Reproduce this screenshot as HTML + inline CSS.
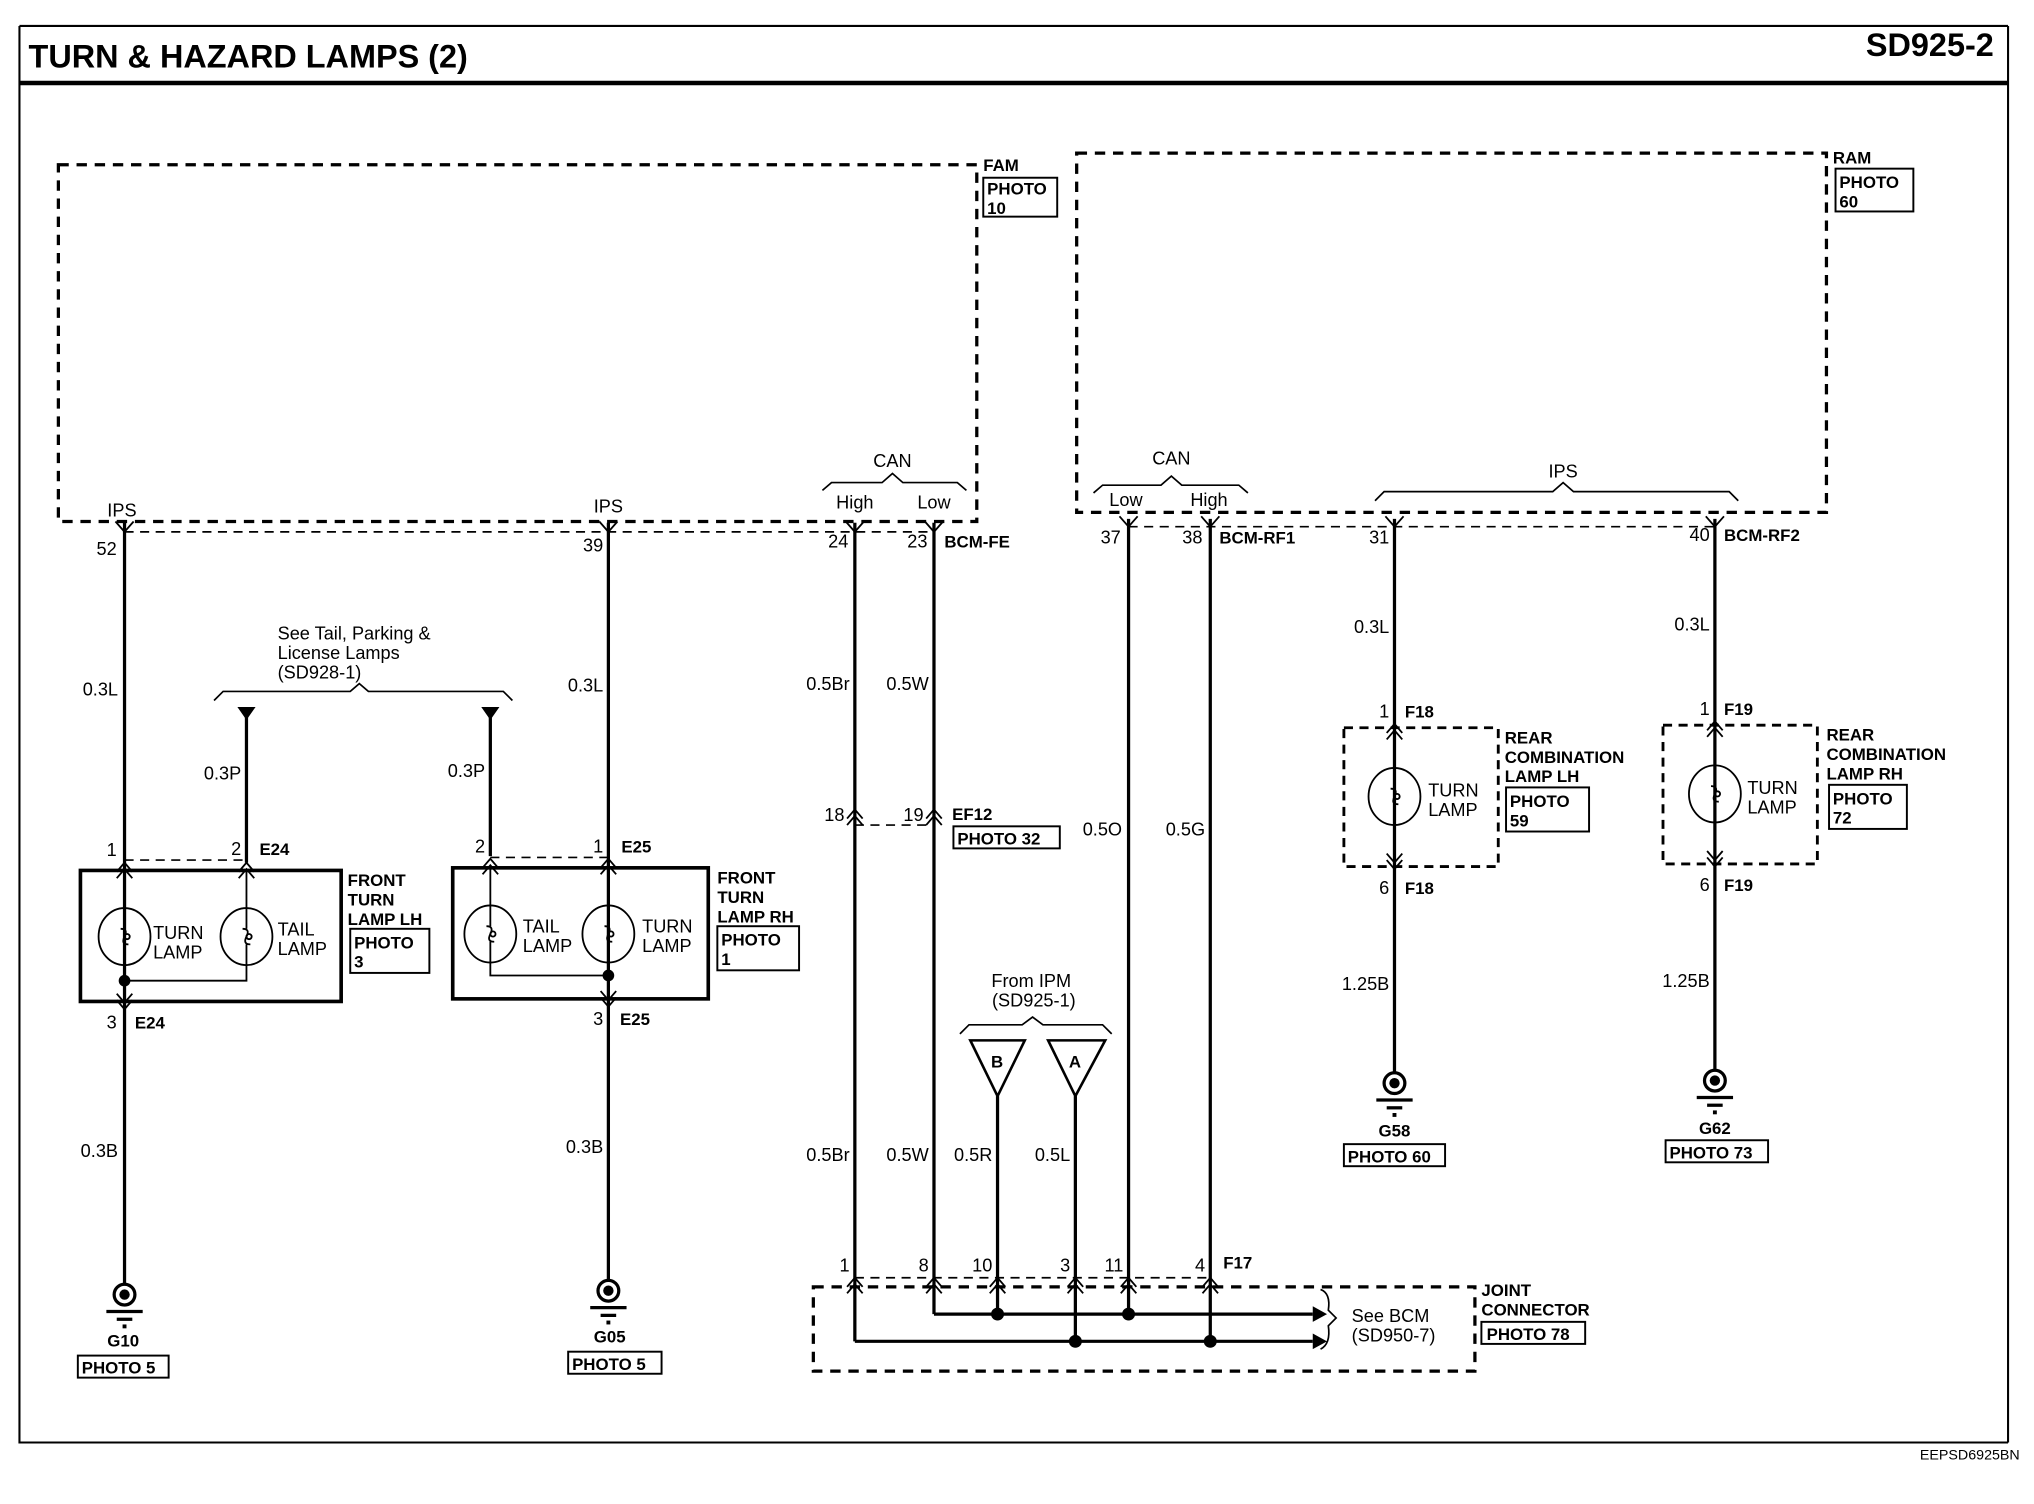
<!DOCTYPE html>
<html><head><meta charset="utf-8"><style>
html,body{margin:0;padding:0;background:#fff;}
svg{display:block;}
text{font-family:"Liberation Sans",Arial,sans-serif;fill:#000;}
.b{font-weight:bold;}
</style></head><body>
<svg width="2034" height="1504" viewBox="0 0 1568 1159.4" xmlns="http://www.w3.org/2000/svg">
<defs>
<g id="up" fill="none" stroke="#000" stroke-width="1.4"><path d="M-6,7 L0,0 L6,7 M-6,12 L0,5 L6,12"/></g>
<g id="dn" fill="none" stroke="#000" stroke-width="1.4"><path d="M-6,-7 L0,0 L6,-7 M-6,-12 L0,-5 L6,-12"/></g>
<g id="y" fill="none" stroke="#000" stroke-width="1.4"><path d="M-7,-7 L0,1 L7,-7"/></g>
<g id="gnd"><circle cx="0" cy="0" r="8" fill="none" stroke="#000" stroke-width="2.5"/><circle cx="0" cy="0" r="4" fill="#000"/><line x1="-14" y1="13" x2="14" y2="13" stroke="#000" stroke-width="2.5"/><line x1="-6" y1="19" x2="6" y2="19" stroke="#000" stroke-width="2.5"/><rect x="-1.5" y="23" width="3" height="3" fill="#000"/></g>
<g id="lamp" fill="none" stroke="#000" stroke-width="1.4"><ellipse cx="0" cy="0" rx="20" ry="22"/><path d="M0,-22 V-6 M0,6 V22 M-3,-6 Q3,-6 0,0 Q-3,6 3,6"/><circle cx="2" cy="0" r="2"/></g>
</defs>
<g fill="none" stroke="#000">
<path d="M15,20 L1548,20 M15,20 L15,1112 L1548,1112 M1548,20 L1548,1112" stroke-width="1.6"/>
<line x1="15" y1="64" x2="1548" y2="64" stroke-width="3.5"/>
<rect x="45" y="127" width="708" height="275" stroke-width="2.5" stroke-dasharray="8,6"/>
<rect x="830" y="118" width="578" height="277" stroke-width="2.5" stroke-dasharray="8,6"/>
<rect x="627" y="992" width="510" height="65" stroke-width="2.5" stroke-dasharray="8,6"/>
<g stroke-width="1.3" stroke-dasharray="7,5">
<line x1="96" y1="410" x2="720" y2="410"/>
<line x1="870" y1="406" x2="1322" y2="406"/>
<line x1="96" y1="663" x2="190" y2="663"/>
<line x1="378" y1="661" x2="469" y2="661"/>
<line x1="659" y1="636" x2="720" y2="636"/>
<line x1="659" y1="985" x2="933" y2="985"/>
<rect x="1036" y="561" width="119" height="107" stroke-width="2.2"/>
<rect x="1282" y="559" width="119" height="107" stroke-width="2.2"/>
</g>
<g stroke-width="2.5">
<line x1="96" y1="403" x2="96" y2="990"/>
<line x1="469" y1="403" x2="469" y2="988"/>
<line x1="659" y1="403" x2="659" y2="1034"/>
<line x1="720" y1="403" x2="720" y2="1013"/>
<line x1="870" y1="400" x2="870" y2="1013"/>
<line x1="933" y1="400" x2="933" y2="1034"/>
<line x1="769" y1="845" x2="769" y2="1013"/>
<line x1="829" y1="845" x2="829" y2="1034"/>
<line x1="190" y1="550" x2="190" y2="665"/>
<line x1="378" y1="550" x2="378" y2="660"/>
<line x1="1075" y1="400" x2="1075" y2="827"/>
<line x1="1322" y1="400" x2="1322" y2="825"/>
<line x1="720" y1="1013" x2="1012" y2="1013"/>
<line x1="659" y1="1034" x2="1012" y2="1034"/>
</g>
<rect x="62" y="671" width="201" height="101" stroke-width="2.8"/>
<rect x="349" y="669" width="197" height="101" stroke-width="2.8"/>
<path d="M96,756 H190 V744 M190,671 V700" stroke-width="1.4"/>
<path d="M469,752 H378 V742 M378,669 V698" stroke-width="1.4"/>
<path d="M165,540 L172,533 L270,533 L277,527 L284,533 L388,533 L395,540" stroke-width="1.3"/>
<path d="M634,378 L641,372 L680,372 L688,365 L696,372 L738,372 L745,378" stroke-width="1.3"/>
<path d="M843,380 L850,374 L895,374 L903,367 L911,374 L955,374 L962,380" stroke-width="1.3"/>
<path d="M1060,386 L1067,379 L1197,379 L1205,372 L1213,379 L1333,379 L1340,386" stroke-width="1.3"/>
<path d="M740,797 L747,790 L788,790 L796,784 L804,790 L850,790 L857,797" stroke-width="1.3"/>
<path d="M1018,994 Q1026,997 1024,1010 L1030,1016 L1024,1022 Q1026,1036 1018,1040" stroke-width="1.3"/>
<path d="M748,802 L790,802 L769,845 Z M808,802 L852,802 L829,845 Z" stroke-width="2"/>
<g stroke-width="1.5">
<rect x="758" y="137" width="57" height="30"/>
<rect x="1415" y="130" width="60" height="33"/>
<rect x="270" y="716" width="61" height="34"/>
<rect x="553" y="714" width="63" height="34"/>
<rect x="735" y="637" width="82" height="17"/>
<rect x="60" y="1045" width="70" height="17"/>
<rect x="438" y="1042" width="72" height="17"/>
<rect x="1161" y="607" width="64" height="34"/>
<rect x="1410" y="605" width="60" height="34"/>
<rect x="1036" y="882" width="78" height="17"/>
<rect x="1284" y="879" width="79" height="17"/>
<rect x="1142" y="1019" width="80" height="17"/>
</g>
</g>
<path d="M1012,1007 L1023,1013 L1012,1019 Z M1012,1028 L1023,1034 L1012,1040 Z" fill="#000"/>
<path d="M183,545 L197,545 L190,555 Z M371,545 L385,545 L378,555 Z" fill="#000"/>
<g fill="#000"><circle cx="96" cy="756" r="4.5"/><circle cx="469" cy="752" r="4.5"/>
<circle cx="769" cy="1013" r="5"/><circle cx="870" cy="1013" r="5"/><circle cx="829" cy="1034" r="5"/><circle cx="933" cy="1034" r="5"/></g>
<use href="#lamp" x="96" y="722"/><use href="#lamp" x="190" y="722"/>
<use href="#lamp" x="378" y="720"/><use href="#lamp" x="469" y="720"/>
<use href="#lamp" x="1075" y="614"/><use href="#lamp" x="1322" y="612"/>
<use href="#y" x="96" y="409"/><use href="#y" x="469" y="409"/><use href="#y" x="659" y="409"/><use href="#y" x="720" y="409"/>
<use href="#y" x="870" y="405"/><use href="#y" x="933" y="405"/><use href="#y" x="1075" y="405"/><use href="#y" x="1322" y="405"/>
<use href="#up" x="96" y="665"/><use href="#up" x="190" y="665"/><use href="#up" x="378" y="662"/><use href="#up" x="469" y="662"/>
<use href="#dn" x="96" y="778"/><use href="#dn" x="469" y="776"/>
<use href="#up" x="659" y="624"/><use href="#up" x="720" y="624"/>
<use href="#up" x="1075" y="558"/><use href="#up" x="1322" y="556"/>
<use href="#dn" x="1075" y="670"/><use href="#dn" x="1322" y="668"/>
<use href="#up" x="659" y="985"/><use href="#up" x="720" y="985"/><use href="#up" x="769" y="985"/><use href="#up" x="829" y="985"/><use href="#up" x="870" y="985"/><use href="#up" x="933" y="985"/>
<use href="#gnd" x="96" y="998"/><use href="#gnd" x="469" y="995"/><use href="#gnd" x="1075" y="835"/><use href="#gnd" x="1322" y="833"/>

<text x="22" y="52" font-size="25" class="b">TURN &amp; HAZARD LAMPS (2)</text>
<text x="1537" y="43" font-size="25" class="b" text-anchor="end">SD925-2</text>
<text x="1557" y="1125" font-size="11" text-anchor="end">EEPSD6925BN</text>
<g font-size="13" class="b">
<text x="758" y="132">FAM</text><text x="761" y="150">PHOTO</text><text x="761" y="165">10</text>
<text x="1413" y="126">RAM</text><text x="1418" y="145">PHOTO</text><text x="1418" y="160">60</text>
<text x="268" y="683">FRONT</text><text x="268" y="698">TURN</text><text x="268" y="713">LAMP LH</text>
<text x="273" y="731">PHOTO</text><text x="273" y="746">3</text>
<text x="553" y="681">FRONT</text><text x="553" y="696">TURN</text><text x="553" y="711">LAMP RH</text>
<text x="556" y="729">PHOTO</text><text x="556" y="744">1</text>
<text x="1160" y="573">REAR</text><text x="1160" y="588">COMBINATION</text><text x="1160" y="603">LAMP LH</text>
<text x="1164" y="622">PHOTO</text><text x="1164" y="637">59</text>
<text x="1408" y="571">REAR</text><text x="1408" y="586">COMBINATION</text><text x="1408" y="601">LAMP RH</text>
<text x="1413" y="620">PHOTO</text><text x="1413" y="635">72</text>
<text x="1142" y="999">JOINT</text><text x="1142" y="1014">CONNECTOR</text><text x="1146" y="1033">PHOTO 78</text>
<text x="738" y="651">PHOTO 32</text>
<text x="63" y="1059">PHOTO 5</text><text x="441" y="1056">PHOTO 5</text>
<text x="1039" y="896">PHOTO 60</text><text x="1287" y="893">PHOTO 73</text>
<text x="95" y="1038" text-anchor="middle">G10</text><text x="470" y="1035" text-anchor="middle">G05</text>
<text x="1075" y="876" text-anchor="middle">G58</text><text x="1322" y="874" text-anchor="middle">G62</text>
<text x="728" y="422">BCM-FE</text><text x="940" y="419">BCM-RF1</text><text x="1329" y="417">BCM-RF2</text>
<text x="200" y="659">E24</text><text x="479" y="657">E25</text>
<text x="104" y="793">E24</text><text x="478" y="790">E25</text>
<text x="734" y="632">EF12</text><text x="943" y="978">F17</text>
<text x="1083" y="553">F18</text><text x="1083" y="689">F18</text>
<text x="1329" y="551">F19</text><text x="1329" y="687">F19</text>
<text x="764" y="823">B</text><text x="824" y="823">A</text>
</g>
<g font-size="14">
<text x="94" y="398" text-anchor="middle">IPS</text><text x="469" y="395" text-anchor="middle">IPS</text>
<text x="688" y="360" text-anchor="middle">CAN</text><text x="903" y="358" text-anchor="middle">CAN</text><text x="1205" y="368" text-anchor="middle">IPS</text>
<text x="659" y="392" text-anchor="middle">High</text><text x="720" y="392" text-anchor="middle">Low</text>
<text x="868" y="390" text-anchor="middle">Low</text><text x="932" y="390" text-anchor="middle">High</text>
<text x="90" y="428" text-anchor="end">52</text><text x="465" y="425" text-anchor="end">39</text>
<text x="654" y="422" text-anchor="end">24</text><text x="715" y="422" text-anchor="end">23</text>
<text x="864" y="419" text-anchor="end">37</text><text x="927" y="419" text-anchor="end">38</text>
<text x="1071" y="419" text-anchor="end">31</text><text x="1318" y="417" text-anchor="end">40</text>
<text x="214" y="493">See Tail, Parking &amp;</text><text x="214" y="508">License Lamps</text><text x="214" y="523">(SD928-1)</text>
<text x="91" y="536" text-anchor="end">0.3L</text><text x="465" y="533" text-anchor="end">0.3L</text>
<text x="655" y="532" text-anchor="end">0.5Br</text><text x="716" y="532" text-anchor="end">0.5W</text>
<text x="186" y="601" text-anchor="end">0.3P</text><text x="374" y="599" text-anchor="end">0.3P</text>
<text x="90" y="660" text-anchor="end">1</text><text x="186" y="659" text-anchor="end">2</text>
<text x="374" y="657" text-anchor="end">2</text><text x="465" y="657" text-anchor="end">1</text>
<text x="90" y="793" text-anchor="end">3</text><text x="465" y="790" text-anchor="end">3</text>
<text x="651" y="633" text-anchor="end">18</text><text x="712" y="633" text-anchor="end">19</text>
<text x="865" y="644" text-anchor="end">0.5O</text><text x="929" y="644" text-anchor="end">0.5G</text>
<text x="1071" y="488" text-anchor="end">0.3L</text><text x="1318" y="486" text-anchor="end">0.3L</text>
<text x="1071" y="553" text-anchor="end">1</text><text x="1318" y="551" text-anchor="end">1</text>
<text x="1071" y="689" text-anchor="end">6</text><text x="1318" y="687" text-anchor="end">6</text>
<text x="1101" y="614">TURN</text><text x="1101" y="629">LAMP</text>
<text x="1347" y="612">TURN</text><text x="1347" y="627">LAMP</text>
<text x="118" y="724">TURN</text><text x="118" y="739">LAMP</text>
<text x="214" y="721">TAIL</text><text x="214" y="736">LAMP</text>
<text x="403" y="719">TAIL</text><text x="403" y="734">LAMP</text>
<text x="495" y="719">TURN</text><text x="495" y="734">LAMP</text>
<text x="1071" y="763" text-anchor="end">1.25B</text><text x="1318" y="761" text-anchor="end">1.25B</text>
<text x="795" y="761" text-anchor="middle">From IPM</text><text x="797" y="776" text-anchor="middle">(SD925-1)</text>
<text x="91" y="892" text-anchor="end">0.3B</text><text x="465" y="889" text-anchor="end">0.3B</text>
<text x="655" y="895" text-anchor="end">0.5Br</text><text x="716" y="895" text-anchor="end">0.5W</text>
<text x="765" y="895" text-anchor="end">0.5R</text><text x="825" y="895" text-anchor="end">0.5L</text>
<text x="655" y="980" text-anchor="end">1</text><text x="716" y="980" text-anchor="end">8</text>
<text x="765" y="980" text-anchor="end">10</text><text x="825" y="980" text-anchor="end">3</text>
<text x="866" y="980" text-anchor="end">11</text><text x="929" y="980" text-anchor="end">4</text>
<text x="1042" y="1019">See BCM</text><text x="1042" y="1034">(SD950-7)</text>
</g>
</svg>
</body></html>
